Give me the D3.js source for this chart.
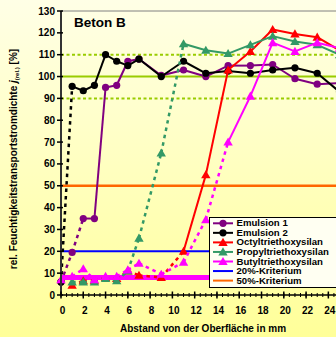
<!DOCTYPE html>
<html>
<head>
<meta charset="utf-8">
<script src="https://cdn.jsdelivr.net/npm/d3@7"></script>
<style>
  html, body { margin: 0; padding: 0; }
  body { width: 336px; height: 337px; overflow: hidden; }
  text { font-family: "Liberation Sans", Arial, sans-serif; font-weight: bold; fill: #000; }
</style>
</head>
<body>
<svg id="chart" width="336" height="337"></svg>
<script>
// Depth positions (mm) of the measured slices
const depth = [0, 1, 2, 3, 4, 5, 6, 7, 9, 11, 13, 15, 17, 19, 21, 23, 25];

// Relative moisture transport flux density [%] per product
const emulsion1 = [6, 19.5, 35, 35, 95, 96, 107, 108, 100.5, 103, 100, 105, 105, 105.5, 99, 96.5, 97];
const emulsion2 = [6, 95.5, 93.5, 96, 110, 107, 105, 108, 100, 107, 101.5, 102.5, 101.5, 103, 104, 101.5, 93];
const octylDepth = [1, 2, 3, 4, 5, 6, 7, 9, 11, 13, 15, 17, 19, 21, 23, 25];
const octyl = [4.5, 6.5, 6.5, 8, 7.5, 11, 9, 8, 20, 55, 103, 111.5, 121.5, 119.5, 118, 112];
const propylDepth = [1, 2, 3, 4, 5, 6, 7, 9, 11, 13, 15, 17, 19, 21, 23, 25];
const propyl = [6, 6, 6, 7.5, 6.5, 11, 26, 65, 115, 112, 110.5, 114.5, 118.5, 116, 114.5, 110];
const butyl = [7, 8.5, 12, 7, 8.5, 8.5, 11.5, 14.5, 9.5, 15, 34.5, 70, 91, 115.5, 111.5, 115.5, 113];

// Criteria and reference levels
const criterion20 = 20;
const criterion50 = 50;
const baseLevel = 8;
const refSolid = [100];
const refDotted = [90, 110];

// Tick values
const yTicks = d3.range(0, 131, 10);
const xTicks = d3.range(0, 25, 2);
const xMinor = d3.range(0, 26.01, 0.5);

const series = [
  { name: "Emulsion 1", xs: depth, ys: emulsion1, color: "#800080", marker: "circle", solidFrom: 2 },
  { name: "Emulsion 2", xs: depth, ys: emulsion2, color: "#000000", marker: "circle", solidFrom: 1 },
  { name: "Octyltriethoxysilan", xs: octylDepth, ys: octyl, color: "#ff0000", marker: "triangle", solidFrom: 11 },
  { name: "Propyltriethoxysilan", xs: propylDepth, ys: propyl, color: "#339966", marker: "triangle", solidFrom: 11 },
  { name: "Butyltriethoxysilan", xs: depth, ys: butyl, color: "#ff00ff", marker: "triangle", solidFrom: 15 }
];

const svg = d3.select("#chart");
const W = 336, H = 337;

// background gradient
const defs = svg.append("defs");
const grad = defs.append("linearGradient").attr("id", "bg").attr("x1", 0).attr("y1", 0).attr("x2", 0).attr("y2", 1);
grad.append("stop").attr("offset", "0%").attr("stop-color", "#ffffe6");
grad.append("stop").attr("offset", "100%").attr("stop-color", "#ffff99");
svg.append("rect").attr("width", W).attr("height", H).attr("fill", "url(#bg)");

const x = d3.scaleLinear().domain([0, 26]).range([61, 61 + 26 * 11.14]);
const y = d3.scaleLinear().domain([0, 130]).range([295, 11]);

const clip = defs.append("clipPath").attr("id", "plot");
clip.append("rect").attr("x", 55).attr("y", 5).attr("width", 300).attr("height", 295);

// frame top line
svg.append("line").attr("x1", x(0)).attr("x2", W).attr("y1", y(130)).attr("y2", y(130))
  .attr("stroke", "#808080").attr("stroke-width", 1);

// reference lines
const refs = svg.append("g");
refDotted.forEach(v => refs.append("line").attr("x1", x(0)).attr("x2", W).attr("y1", y(v)).attr("y2", y(v))
  .attr("stroke", "#99cc00").attr("stroke-width", 2).attr("stroke-dasharray", "3,2.5"));
refSolid.forEach(v => refs.append("line").attr("x1", x(0)).attr("x2", W).attr("y1", y(v)).attr("y2", y(v))
  .attr("stroke", "#99cc00").attr("stroke-width", 2));
refs.append("line").attr("x1", x(0)).attr("x2", W).attr("y1", y(criterion50)).attr("y2", y(criterion50))
  .attr("stroke", "#ff6600").attr("stroke-width", 2.5);
refs.append("line").attr("x1", x(0)).attr("x2", W).attr("y1", y(criterion20)).attr("y2", y(criterion20))
  .attr("stroke", "#0000ff").attr("stroke-width", 2);
refs.append("line").attr("x1", x(0)).attr("x2", W).attr("y1", y(baseLevel)).attr("y2", y(baseLevel))
  .attr("stroke", "#ff00ff").attr("stroke-width", 5);

// series
const tri = d3.symbol().type(d3.symbolTriangle).size(38);
function drawMarker(g, type, cx, cy, color) {
  if (type === "circle") {
    g.append("circle").attr("cx", cx).attr("cy", cy).attr("r", 3.6).attr("fill", color);
  } else {
    g.append("path").attr("d", tri()).attr("transform", `translate(${cx},${cy + 0.8})`).attr("fill", color);
  }
}

const plot = svg.append("g").attr("clip-path", "url(#plot)");
series.forEach(s => {
  const g = plot.append("g");
  const pts = s.xs.map((d, i) => [d, s.ys[i]]);
  for (let i = 0; i < pts.length - 1; i++) {
    const dashed = pts[i][0] < s.solidFrom;
    g.append("line")
      .attr("x1", x(pts[i][0])).attr("y1", y(pts[i][1]))
      .attr("x2", x(pts[i + 1][0])).attr("y2", y(pts[i + 1][1]))
      .attr("stroke", s.color).attr("stroke-width", dashed ? 2.5 : 2)
      .attr("stroke-dasharray", dashed ? "3.5,4" : null);
  }
  pts.forEach(p => drawMarker(g, s.marker, x(p[0]), y(p[1]), s.color));
});

// axes
const axisColor = "#333";
svg.append("line").attr("x1", x(0)).attr("x2", x(0)).attr("y1", y(130)).attr("y2", y(0))
  .attr("stroke", axisColor).attr("stroke-width", 2);
svg.append("line").attr("x1", x(0)).attr("x2", W).attr("y1", y(0)).attr("y2", y(0))
  .attr("stroke", "#000").attr("stroke-width", 1.5);

const yAxis = svg.append("g");
yTicks.forEach(v => {
  yAxis.append("line").attr("x1", x(0) - 4).attr("x2", x(0) + 2).attr("y1", y(v)).attr("y2", y(v))
    .attr("stroke", "#000").attr("stroke-width", 1.5);
  yAxis.append("text").attr("x", x(0) - 6).attr("y", y(v)).attr("dy", "0.35em")
    .attr("text-anchor", "end").attr("font-size", 10).text(v);
});

const xAxis = svg.append("g");
xMinor.forEach(v => {
  xAxis.append("line").attr("x1", x(v)).attr("x2", x(v)).attr("y1", y(0) - 2).attr("y2", y(0) + 2)
    .attr("stroke", "#000").attr("stroke-width", 1);
});
xTicks.forEach(v => {
  xAxis.append("line").attr("x1", x(v)).attr("x2", x(v)).attr("y1", y(0) - 3.5).attr("y2", y(0) + 3.5)
    .attr("stroke", "#000").attr("stroke-width", 1.5);
  xAxis.append("text").attr("x", x(v) + 1.5).attr("y", 314)
    .attr("text-anchor", "middle").attr("font-size", 10).text(v);
});

// axis titles
svg.append("text").attr("x", 203).attr("y", 332).attr("text-anchor", "middle")
  .attr("font-size", 10).text("Abstand von der Oberfläche in mm");

const yt = svg.append("text").attr("transform", "translate(17,159) rotate(-90)")
  .attr("text-anchor", "middle").attr("font-size", 10);
yt.append("tspan").text("rel. Feuchtigkeitstransportstromdichte ");
yt.append("tspan").attr("font-style", "italic").text("j");
yt.append("tspan").attr("font-size", 6).attr("dy", 2).text("(rel.)");
yt.append("tspan").attr("dy", -2).text(" [%]");

// chart title
svg.append("text").attr("x", 74).attr("y", 27).attr("font-size", 13.5).text("Beton B");

// legend
const legendItems = [
  ...series.map(s => ({ name: s.name, color: s.color, marker: s.marker })),
  { name: "20%-Kriterium", color: "#0000ff", marker: null },
  { name: "50%-Kriterium", color: "#ff6600", marker: null }
];
const lg = svg.append("g");
lg.append("rect").attr("x", 209.5).attr("y", 217.5).attr("width", 140).attr("height", 70)
  .attr("fill", "#fffff2").attr("stroke", "#000").attr("stroke-width", 1);
legendItems.forEach((d, i) => {
  const cy = 223.3 + i * 9.55;
  lg.append("line").attr("x1", 213).attr("x2", 233).attr("y1", cy).attr("y2", cy)
    .attr("stroke", d.color).attr("stroke-width", 2);
  if (d.marker) drawMarker(lg, d.marker, 223, cy, d.color);
  // wide, compact lettering so rows stay within their 9.5px pitch
  lg.append("text").attr("transform", `translate(236.5,${cy}) scale(1.16,1)`)
    .attr("dy", "0.36em").attr("font-size", 8.3).text(d.name);
});
</script>
</body>
</html>
